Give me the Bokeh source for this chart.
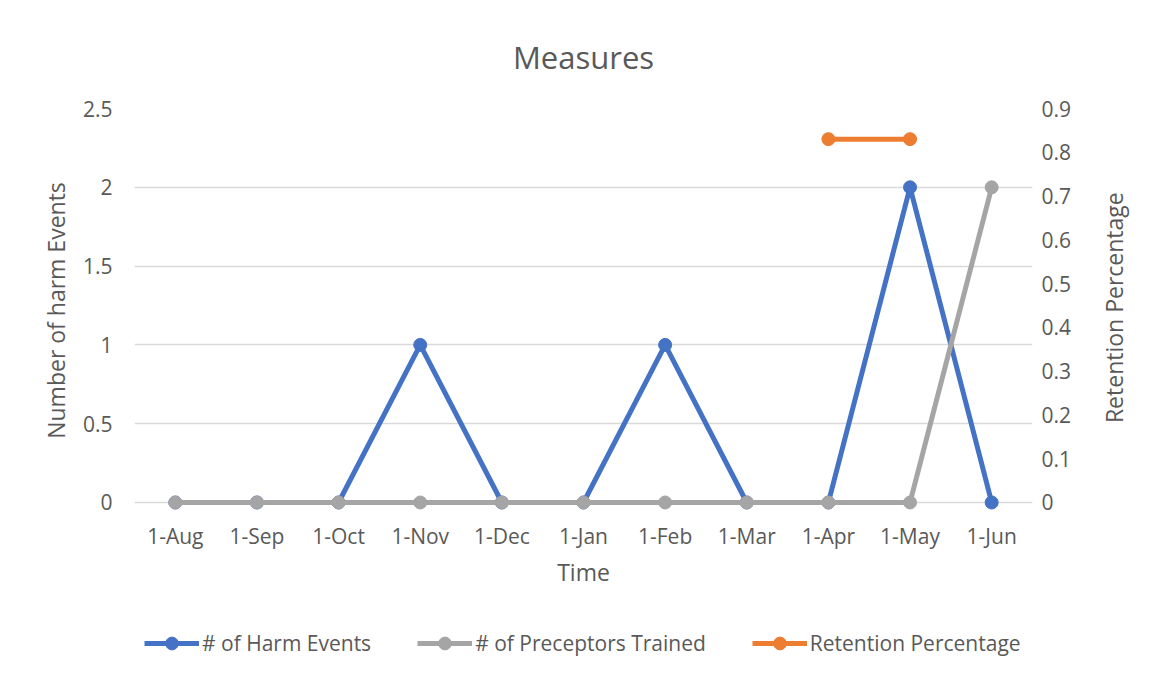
import math
from bokeh.plotting import figure
from bokeh.layouts import column, row
from bokeh.core.properties import value
from bokeh.models import (Range1d, LinearAxis, FixedTicker, CustomJSTickFormatter,
                          Legend, LegendItem, FactorRange)
from bokeh.embed import file_html
from bokeh.resources import INLINE

months = ["1-Aug", "1-Sep", "1-Oct", "1-Nov", "1-Dec", "1-Jan",
          "1-Feb", "1-Mar", "1-Apr", "1-May", "1-Jun"]
harm_events = [0, 0, 0, 1, 0, 0, 1, 0, 0, 2, 0]
preceptors_trained = [0, 0, 0, 0, 0, 0, 0, 0, 0, 0, 2]
retention_pct = [math.nan] * 8 + [0.83, 0.83, math.nan]
left_ticks = [0, 0.5, 1, 1.5, 2, 2.5]
right_ticks = [0, 0.1, 0.2, 0.3, 0.4, 0.5, 0.6, 0.7, 0.8, 0.9]

FONT = "Open Sans"
TXT = "#595959"
BLUE = "#4472C4"
GRAY = "#A5A5A5"
ORANGE = "#ED7D31"

# small negative start so that lines/markers on 0 are not clipped by the frame
LEFT_MAX, RIGHT_MAX = 2.5, 0.9
LEFT_MIN = -0.0635
RIGHT_MIN = LEFT_MIN * RIGHT_MAX / LEFT_MAX

MB_L, MB_R, MB_T, MB_B = 134, 55, 108, 98
W_MAIN, H_MAIN = 1087, 610

p = figure(x_range=FactorRange(*months), y_range=Range1d(LEFT_MIN, LEFT_MAX),
           width=W_MAIN, height=H_MAIN,
           output_backend="svg", toolbar_location=None, title="Measures",
           min_border_left=MB_L, min_border_right=MB_R, min_border_top=MB_T,
           min_border_bottom=MB_B)
p.extra_y_ranges = {"right": Range1d(RIGHT_MIN, RIGHT_MAX)}
p.x_range.range_padding = 0
p.outline_line_color = None

p.title.align = "center"
p.title.text_font = FONT
p.title.text_font_size = "31px"
p.title.text_font_style = "normal"
p.title.text_color = TXT
p.title.standoff = 62

fmt = CustomJSTickFormatter(code="return String(Math.round(tick*10)/10);")

ax = p.yaxis[0]
ax.ticker = FixedTicker(ticks=left_ticks)
ax.formatter = fmt
ax.axis_label = "Number of harm Events"

rax = LinearAxis(y_range_name="right", ticker=FixedTicker(ticks=right_ticks),
                 formatter=fmt)
p.add_layout(rax, "right")

p.xaxis.axis_label = "Time"

for a in [ax, rax, p.xaxis[0]]:
    a.axis_line_color = None
    a.major_tick_line_color = None
    a.minor_tick_line_color = None
    a.major_label_text_font = FONT
    a.major_label_text_font_size = "21px"
    a.major_label_text_color = TXT
    a.axis_label_text_font = FONT
    a.axis_label_text_font_size = "23px"
    a.axis_label_text_font_style = "normal"
    a.axis_label_text_color = TXT

ax.major_label_standoff = 16
rax.major_label_standoff = 3
p.xaxis.major_label_standoff = 3
ax.axis_label_standoff = 8
p.xaxis.axis_label_standoff = 3

p.xgrid.grid_line_color = None
p.ygrid.grid_line_color = "#D9D9D9"
p.ygrid.grid_line_width = 1.5

p.line(months, harm_events, line_color=BLUE, line_width=5)
p.scatter(months, harm_events, size=13, fill_color=BLUE, line_color=BLUE)
p.line(months, preceptors_trained, line_color=GRAY, line_width=5)
p.scatter(months, preceptors_trained, size=13, fill_color=GRAY, line_color=GRAY)
p.line(months, retention_pct, line_color=ORANGE, line_width=5, y_range_name="right")
p.scatter(months, retention_pct, size=13, fill_color=ORANGE, line_color=ORANGE,
          y_range_name="right")

# right axis title, reading bottom-to-top, in a narrow strip beside the chart
side = figure(x_range=Range1d(0, 50), y_range=Range1d(0, 1), width=50, height=H_MAIN,
              output_backend="svg", toolbar_location=None,
              x_axis_location=None, y_axis_location=None,
              min_border_left=0, min_border_right=0, min_border_top=MB_T,
              min_border_bottom=MB_B)
side.outline_line_color = None
side.grid.grid_line_color = None
side.text(x=[26], y=[0.507], text=["Retention Percentage"], angle=math.pi / 2,
          text_align="center", text_baseline="middle", text_font=value(FONT),
          text_font_size="23px", text_color=TXT)

# legend strip below the chart (its own renderers lie outside its view)
lg = figure(x_range=FactorRange(*months), y_range=Range1d(10, 11), width=W_MAIN, height=61,
            output_backend="svg", toolbar_location=None,
            x_axis_location=None, y_axis_location=None,
            min_border_left=MB_L, min_border_right=MB_R, min_border_top=0,
            min_border_bottom=0)
lg.outline_line_color = None
lg.grid.grid_line_color = None
k1 = lg.line(months, harm_events, line_color=BLUE, line_width=5)
m1 = lg.scatter(months, harm_events, size=13, fill_color=BLUE, line_color=BLUE)
k2 = lg.line(months, preceptors_trained, line_color=GRAY, line_width=5)
m2 = lg.scatter(months, preceptors_trained, size=13, fill_color=GRAY, line_color=GRAY)
k3 = lg.line(months, retention_pct, line_color=ORANGE, line_width=5)
m3 = lg.scatter(months, retention_pct, size=13, fill_color=ORANGE, line_color=ORANGE)

legend = Legend(items=[
    LegendItem(label="# of Harm Events", renderers=[k1, m1]),
    LegendItem(label="# of Preceptors Trained", renderers=[k2, m2]),
    LegendItem(label="Retention Percentage", renderers=[k3, m3]),
], orientation="horizontal", location=(10, 12))
legend.label_text_font = FONT
legend.label_text_font_size = "21px"
legend.label_text_color = TXT
legend.glyph_width = 55
legend.glyph_height = 32
legend.label_standoff = 3
legend.spacing = 46
legend.border_line_color = None
legend.background_fill_alpha = 0
legend.margin = 0
legend.padding = 0
lg.add_layout(legend, "center")

layout = column(row(p, side, spacing=0), lg, spacing=0)
open("out.html", "w").write(file_html(layout, INLINE))
